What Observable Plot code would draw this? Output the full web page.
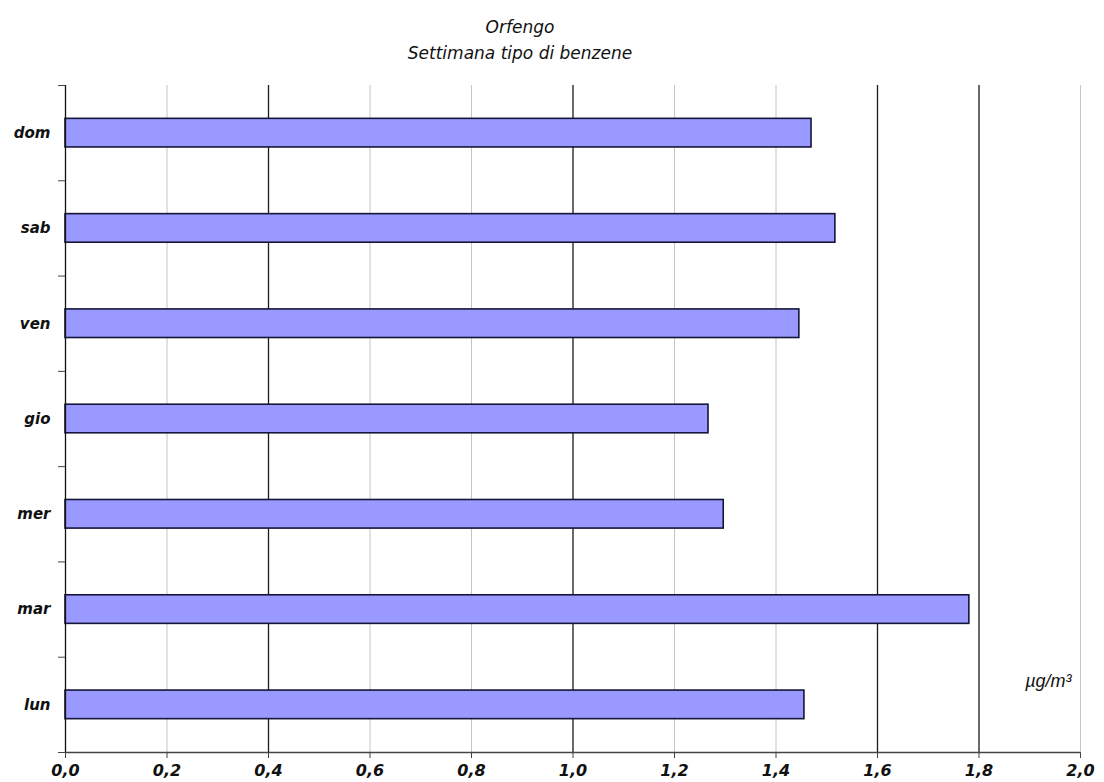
<!DOCTYPE html>
<html><head><meta charset="utf-8">
<script src="https://cdn.jsdelivr.net/npm/d3@7"></script>
<script src="https://cdn.jsdelivr.net/npm/@observablehq/plot@0.6"></script>
<style>
body{margin:0;background:#fff;}
#wrap{position:relative;width:1104px;height:782px;}
#wrap svg{position:absolute;left:0;top:0;}
.t{position:absolute;left:0;width:1040px;text-align:center;font-family:"DejaVu Sans",sans-serif;font-style:italic;font-size:17px;line-height:20px;color:#111;}
</style></head><body>
<div id="wrap"></div>
<script>
// ---- data ----
const titleText = "Orfengo";
const subtitleText = "Settimana tipo di benzene";
const days = ["dom", "sab", "ven", "gio", "mer", "mar", "lun"];
const benzene = [1.470, 1.517, 1.446, 1.267, 1.297, 1.781, 1.456];
const xTicks = [0, 0.2, 0.4, 0.6, 0.8, 1.0, 1.2, 1.4, 1.6, 1.8, 2.0];
const unitLabel = "µg/m³";

// ---- chart ----
const rows = days.map((d, i) => ({day: d, idx: i, value: benzene[i]}));
const darkGrid = [0.4, 1.0, 1.6, 1.8];
const isDark = v => darkGrid.some(g => Math.abs(g - v) < 1e-9);
const fmt = d => d.toFixed(1).replace(".", ",");
const labelFont = {fontFamily: "DejaVu Sans", fontWeight: "bold", fontStyle: "italic"};

const chart = Plot.plot({
  width: 1104,
  height: 782,
  marginTop: 85,
  marginRight: 24,
  marginBottom: 30,
  marginLeft: 65,
  style: {fontFamily: "DejaVu Sans", fontSize: "16px", background: "transparent", color: "#111"},
  x: {domain: [0, 2], label: null},
  y: {domain: [days.length, 0], label: null},
  marks: [
    Plot.ruleX(xTicks.filter(v => v > 0 && !isDark(v)), {stroke: "#c4c4c4", strokeWidth: 1}),
    Plot.ruleX(xTicks.filter(v => isDark(v)), {stroke: "#1a1a1a", strokeWidth: 1.3}),
    Plot.rect(rows, {
      x1: 0, x2: "value",
      y1: d => d.idx + 0.35, y2: d => d.idx + 0.65,
      fill: "#9999ff", stroke: "#15153a", strokeWidth: 1.6
    }),
    Plot.ruleX([0], {stroke: "#111", strokeWidth: 1.3}),
    Plot.ruleY([days.length], {stroke: "#444", strokeWidth: 1.3}),
    Plot.axisX({
      ticks: xTicks, tickFormat: fmt, tickSize: 6, tickPadding: 6, label: null,
      fontSize: 16, ...labelFont, stroke: "#444"
    }),
    Plot.axisY({
      ticks: days.map((d, i) => i + 0.5),
      tickFormat: v => days[Math.floor(v)], label: null,
      tickSize: 0, tickPadding: 15, fontSize: 15, ...labelFont
    }),
    Plot.axisY({
      ticks: d3.range(days.length + 1), tickFormat: () => "", label: null,
      tickSize: 7, stroke: "#444"
    }),
    Plot.text([unitLabel], {
      frameAnchor: "bottom-right", textAnchor: "end", dx: -9, dy: -66,
      fontFamily: "Liberation Sans", fontStyle: "italic", fontSize: 18, fill: "#111"
    })
  ]
});

const wrap = document.getElementById("wrap");
wrap.appendChild(chart);
const t1 = document.createElement("div");
t1.className = "t"; t1.style.top = "17px"; t1.textContent = titleText;
const t2 = document.createElement("div");
t2.className = "t"; t2.style.top = "43px"; t2.textContent = subtitleText;
wrap.appendChild(t1); wrap.appendChild(t2);
</script>
</body></html>
